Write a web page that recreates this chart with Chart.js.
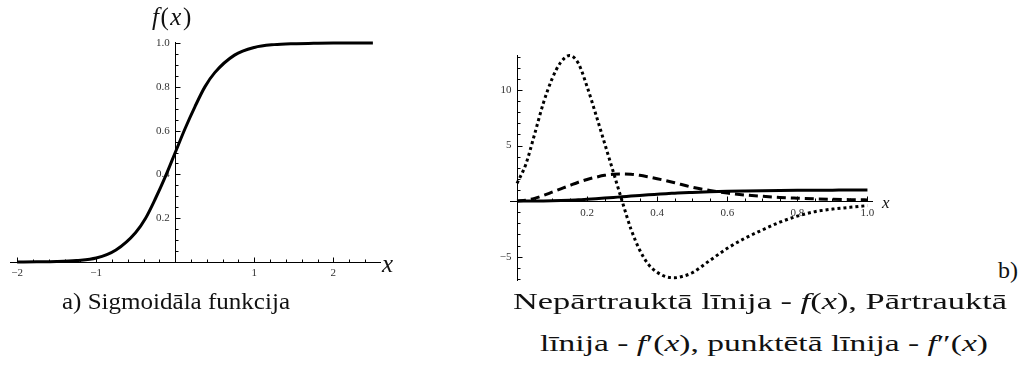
<!DOCTYPE html>
<html>
<head>
<meta charset="utf-8">
<script src="https://cdn.jsdelivr.net/npm/chart.js@4"></script>
<style>
  html, body { margin: 0; padding: 0; background: #fff; }
  body { width: 1029px; height: 382px; position: relative; overflow: hidden; color: #111; }
  canvas { position: absolute; }
  #sigmoid { left: 0; top: 0; }
  #derivs { left: 470px; top: 20px; }
  .lbl { position: absolute; white-space: nowrap; line-height: 1; font: 24px 'Liberation Serif', serif; }
  .it { font-style: italic; }
  .up { font-style: normal; }
  [data-w] { transform-origin: 0 0; }
</style>
</head>
<body>
<canvas id="sigmoid" width="420" height="290"></canvas>
<canvas id="derivs" width="440" height="300"></canvas>

<div class="lbl it" style="left:152px; top:3px; font-size:25px; letter-spacing:1.5px;">f<span class="up">(</span>x<span class="up">)</span></div>
<div class="lbl it" style="left:382px; top:250px; font-size:25px;">x</div>
<div class="lbl it" style="left:882px; top:193px; font-size:17px;">x</div>
<div class="lbl" style="left:998px; top:257px;">b)</div>

<div class="lbl" data-w="228" style="left:62px; top:288px;">a) Sigmoidāla funkcija</div>
<div class="lbl" data-w="494" style="left:513px; top:288px;">Nepārtrauktā līnija - <i>f</i>(<i>x</i>), Pārtrauktā</div>
<div class="lbl" data-w="448" style="left:540px; top:330px;">līnija - <i>f</i>′(<i>x</i>), punktētā līnija - <i>f</i>″(<i>x</i>)</div>

<script>
// sigmoid curve
const sigX = [-2, -1.75, -1.5, -1.25, -1, -0.75, -0.5, -0.375, -0.25, -0.125, 0,
              0.125, 0.25, 0.375, 0.5, 0.75, 1, 1.25, 1.5, 1.75, 2, 2.25, 2.5];
const sigY = [0.0003, 0.001, 0.0025, 0.007, 0.018, 0.055, 0.135, 0.2, 0.29, 0.39, 0.5,
              0.61, 0.71, 0.8, 0.865, 0.945, 0.98, 0.993, 0.9975, 0.999, 1, 1, 1];

// f, f' and f'' on [0, 1]
const gridX = [0, 0.025, 0.05, 0.075, 0.1, 0.125, 0.15, 0.175, 0.2, 0.225, 0.25,
               0.275, 0.3, 0.325, 0.35, 0.375, 0.4, 0.425, 0.45, 0.475, 0.5,
               0.55, 0.6, 0.65, 0.7, 0.75, 0.8, 0.85, 0.9, 0.95, 1];
const fx = [0, 0.002, 0.006, 0.015, 0.03, 0.05, 0.08, 0.12, 0.16, 0.21, 0.27,
            0.33, 0.39, 0.45, 0.51, 0.57, 0.62, 0.67, 0.71, 0.75, 0.78,
            0.84, 0.88, 0.91, 0.935, 0.955, 0.97, 0.98, 0.987, 0.993, 0.997];
const dfx = [0, 0.08, 0.25, 0.5, 0.8, 1.1, 1.4, 1.7, 1.95, 2.15, 2.32,
             2.41, 2.44, 2.41, 2.32, 2.18, 2.02, 1.84, 1.65, 1.45, 1.25,
             0.96, 0.72, 0.55, 0.43, 0.33, 0.26, 0.2, 0.16, 0.13, 0.11];
const d2fx = [1.6, 3.3, 6.0, 8.8, 11.0, 12.5, 13.1, 12.4, 10.3, 7.8, 5.2,
              2.6, 0.0, -2.5, -4.4, -5.7, -6.4, -6.8, -6.9, -6.75, -6.45,
              -5.35, -4.25, -3.35, -2.6, -1.9, -1.35, -0.95, -0.72, -0.56, -0.4];

// stretch the captions to their column widths
document.querySelectorAll('[data-w]').forEach(el => {
  const w = el.getBoundingClientRect().width;
  el.style.transform = 'scaleX(' + (el.dataset.w / w) + ')';
});

const pts = (xs, ys) => xs.map((x, i) => ({ x: x, y: ys[i] }));
// no label at the origin, typographic minus, a gap before the axis line
const fmt = (d, gap) => v => v === 0 ? '' : (v < 0 ? '\u2212' : '') + Math.abs(v).toFixed(d) + gap;

function range(from, to, step) {
  const out = [];
  for (let v = from; v <= to + 1e-9; v += step) out.push(+v.toFixed(4));
  return out;
}

// small inward tick marks along both axes, major ones a bit longer
const axisTicks = {
  id: 'axisTicks',
  beforeDatasetsDraw(chart, args, opts) {
    const { ctx, scales: { x, y } } = chart;
    const x0 = Math.round(x.getPixelForValue(0)) + 0.5;
    const y0 = Math.round(y.getPixelForValue(0)) + 0.5;
    const isMajor = (v, m) => Math.abs(v / m - Math.round(v / m)) < 1e-6;
    ctx.save();
    ctx.strokeStyle = '#000';
    ctx.lineWidth = 1;
    ctx.beginPath();
    for (const v of range(opts.x[0], opts.x[1], opts.x[2])) {
      if (Math.abs(v) < 1e-9) continue;
      const px = Math.round(x.getPixelForValue(v)) + 0.5;
      const len = isMajor(v, opts.x[3]) ? 5 : 3;
      ctx.moveTo(px, y0);
      ctx.lineTo(px, y0 - len);
    }
    for (const v of range(opts.y[0], opts.y[1], opts.y[2])) {
      if (Math.abs(v) < 1e-9) continue;
      const py = Math.round(y.getPixelForValue(v)) + 0.5;
      const len = isMajor(v, opts.y[3]) ? 5 : 3;
      ctx.moveTo(x0, py);
      ctx.lineTo(x0 + len, py);
    }
    ctx.stroke();
    ctx.restore();
  }
};

const tickFont = { family: "'Liberation Serif', serif", size: 11 };

function axis(min, max, step, at, digits, gap, pad) {
  return {
    type: 'linear', min: min, max: max, position: at,
    grid: { display: false, drawTicks: false },
    border: { display: true, color: '#000', width: 1 },
    ticks: { stepSize: step, includeBounds: false, autoSkip: false, maxRotation: 0,
             font: tickFont, color: '#333', padding: pad, callback: fmt(digits, gap) }
  };
}

new Chart(document.getElementById('sigmoid'), {
  type: 'line',
  data: {
    datasets: [{
      data: pts(sigX, sigY),
      borderColor: '#000', borderWidth: 3, pointRadius: 0,
      cubicInterpolationMode: 'monotone', clip: false
    }]
  },
  options: {
    responsive: false, animation: false, devicePixelRatio: 1,
    layout: { padding: { left: 10, right: 40, top: 42, bottom: 28 } },
    scales: {
      x: axis(-2.09, 2.59, 1, { y: 0 }, 0, '', 5),
      y: axis(0, 1.005, 0.2, { x: 0 }, 1, '\u2002', 3)
    },
    plugins: {
      legend: { display: false }, tooltip: { enabled: false },
      axisTicks: { x: [-2, 2.4, 0.2, 1], y: [0.05, 1, 0.05, 0.2] }
    }
  },
  plugins: [axisTicks]
});

new Chart(document.getElementById('derivs'), {
  type: 'line',
  data: {
    datasets: [{
      data: pts(gridX, fx),
      borderColor: '#000', borderWidth: 3, pointRadius: 0,
      cubicInterpolationMode: 'monotone', clip: false
    }, {
      data: pts(gridX, dfx),
      borderColor: '#000', borderWidth: 3, borderDash: [9, 5], pointRadius: 0,
      cubicInterpolationMode: 'monotone', clip: false
    }, {
      data: pts(gridX, d2fx),
      borderColor: '#000', borderWidth: 3, borderDash: [3, 3], pointRadius: 0,
      cubicInterpolationMode: 'monotone', clip: false
    }]
  },
  options: {
    responsive: false, animation: false, devicePixelRatio: 1,
    layout: { padding: { left: 40, right: 38, top: 35, bottom: 40 } },
    scales: {
      x: axis(-0.02, 1.013, 0.2, { y: 0 }, 1, '', 5),
      y: axis(-7.1, 13.15, 5, { x: 0 }, 0, '\u2002', 3)
    },
    plugins: {
      legend: { display: false }, tooltip: { enabled: false },
      axisTicks: { x: [0.05, 1, 0.05, 0.2], y: [-7, 13, 1, 5] }
    }
  },
  plugins: [axisTicks]
});
</script>
</body>
</html>
